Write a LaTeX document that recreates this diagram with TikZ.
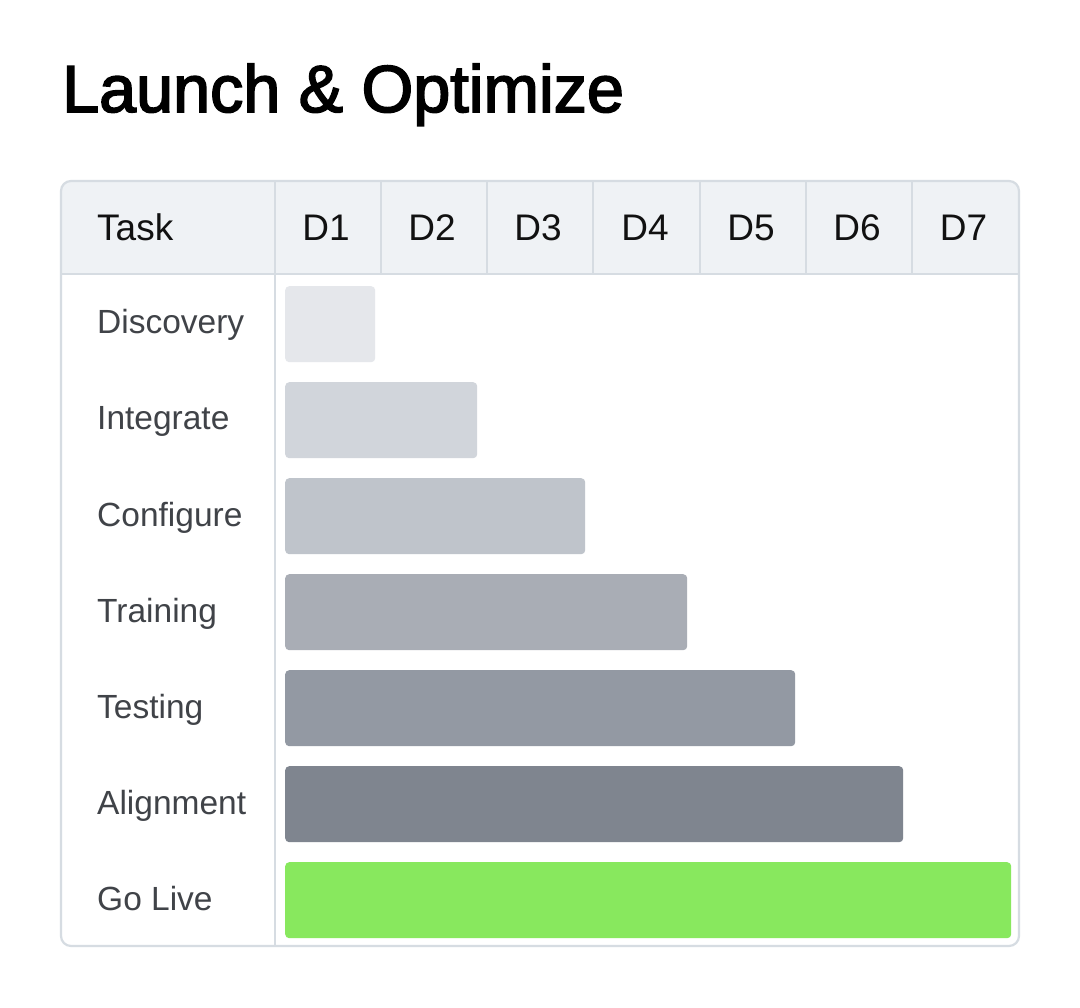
\documentclass[tikz,border=0pt]{standalone}
\usepackage{fontspec}
\setmainfont{Liberation Sans}
\newfontfamily\titlefont{Liberation Sans}[FakeBold=2.5]
\definecolor{gridc}{HTML}{D6DCE2}
\definecolor{headc}{HTML}{EFF2F5}
\definecolor{labc}{HTML}{404348}
\definecolor{headtxt}{HTML}{111111}
\definecolor{cA}{HTML}{E5E7EB}
\definecolor{cB}{HTML}{D1D5DB}
\definecolor{cC}{HTML}{BFC4CB}
\definecolor{cD}{HTML}{A9ADB5}
\definecolor{cE}{HTML}{9399A3}
\definecolor{cF}{HTML}{7F858F}
\definecolor{cG}{HTML}{88E85E}
\tikzset{
  bar/.style={draw=none, rounded corners=4pt, anchor=north west, minimum height=76pt, inner sep=0pt},
  tasklab/.style={anchor=base west, text=labc, font=\fontsize{33.5}{36}\selectfont, inner sep=0pt},
  headlab/.style={text=headtxt, font=\fontsize{37}{40}\selectfont, inner sep=0pt},
  gridline/.style={draw=gridc, line width=2.2pt}
}
\begin{document}
\begin{tikzpicture}[x=1pt,y=-1pt]
\useasboundingbox (0,0) rectangle (1080,1008);
\fill[white] (0,0) rectangle (1080,1008);
% title
\node[anchor=base west, inner sep=0pt, text=black, font=\titlefont\fontsize{66.5}{70}\selectfont] (title) at (62,112) {Launch \& Optimize};
% header
\fill[headc, rounded corners=10pt] (61,181) rectangle (1019,274);
\fill[headc] (61,240) rectangle (1019,274);
% grid
\draw[gridline] (61,274) -- (1019,274);
\draw[gridline] (275,181) -- (275,946);
\foreach \x in {381,487,593,700,806,912} \draw[gridline] (\x,181) -- (\x,274);
\draw[gridline, rounded corners=10pt] (61,181) rectangle (1019,946);
% header labels
\node[headlab, anchor=base west] (hT) at (97,241) {Task};
\foreach \i/\cx in {1/326,2/432,3/538,4/645,5/751,6/857,7/963.5}
  \node[headlab, anchor=base] (h\i) at (\cx,241) {D\i};
% task labels
\foreach \n/\t [count=\k from 0] in {l1/Discovery,l2/Integrate,l3/Configure,l4/Training,l5/Testing,l6/Alignment,l7/Go Live}
  \node[tasklab] (\n) at (97,{334+96*\k}) {\t};
% bars
\node[bar, fill=cA, minimum width=90pt] (b1) at (285,286) {};
\node[bar, fill=cB, minimum width=192pt] (b2) at (285,382) {};
\node[bar, fill=cC, minimum width=300pt] (b3) at (285,478) {};
\node[bar, fill=cD, minimum width=402pt] (b4) at (285,574) {};
\node[bar, fill=cE, minimum width=510pt] (b5) at (285,670) {};
\node[bar, fill=cF, minimum width=618pt] (b6) at (285,766) {};
\node[bar, fill=cG, minimum width=726pt] (b7) at (285,862) {};
\end{tikzpicture}
\end{document}
